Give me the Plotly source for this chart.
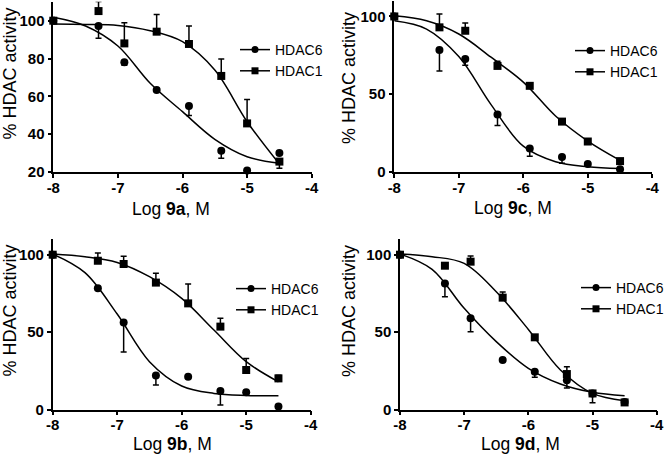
import plotly.graph_objects as go

# ---------------- data ----------------
conc_log = [-8, -7.3, -6.9, -6.4, -5.9, -5.4, -5, -4.5]
fit_log = [-8, -7.5, -7, -6.5, -6, -5.5, -5, -4.5]

x_ticks = [-8, -7, -6, -5, -4]
x_tick_text = ["-8", "-7", "-6", "-5", "-4"]
y_ticks_9a = [20, 40, 60, 80, 100]
y_ticks_other = [0, 50, 100]

series_names = ["HDAC6", "HDAC1"]

# 9a
h6_9a = [100, 97.2, 78, 63.4, 54.9, 31.3, 20.8, 30]
h6_9a_plus = [0, 0, 0, 0, 0, 0, 0, 0]
h6_9a_minus = [0, 6.5, 1.5, 0, 5, 4, 0, 0]
h1_9a = [100, 105.1, 88, 94.2, 87.7, 70.8, 45.7, 25.5]
h1_9a_plus = [0, 5, 10.9, 9.1, 9.5, 9, 12.7, 1.5]
h1_9a_minus = [0, 0, 0, 0, 0, 0, 0, 3.5]
fit6_9a = [101.8, 97.2, 86.6, 66.9, 51.9, 37.3, 28.1, 24.6]
fit1_9a = [98.2, 98, 97.5, 94.7, 88.9, 73.9, 46.6, 24.2]

# 9c
h6_9c = [100, 78.5, 72.7, 36.9, 15.1, 9.6, 5.1, 1.7]
h6_9c_plus = [0, 0, 0, 0, 0, 0, 0, 0]
h6_9c_minus = [0, 13.5, 4, 7, 5, 4, 0, 0]
h1_9c = [100, 93, 90.8, 68.2, 55.4, 32.4, 19.6, 7]
h1_9c_plus = [0, 8.5, 5, 3, 2, 0, 0, 0]
h1_9c_minus = [0, 0, 0, 0, 0, 0, 0, 0]
fit6_9c = [97.2, 91.9, 74.2, 43.3, 16.6, 6.6, 3.4, 2.3]
fit1_9c = [100.4, 97.2, 88.7, 73.8, 57.8, 36, 19.9, 7.5]

# 9b
h6_9b = [100, 78.3, 56.3, 22, 21.3, 12, 11.2, 2]
h6_9b_plus = [0, 0, 0, 0, 0, 0, 0, 0]
h6_9b_minus = [0, 0, 19, 6, 0, 9, 0, 0]
h1_9b = [100, 96.1, 94, 82, 68.6, 53.6, 25.6, 20.2]
h1_9b_plus = [0, 5, 5, 6, 12.5, 5.4, 7.5, 2]
h1_9b_minus = [0, 0, 0, 0, 0, 0, 0, 0]
fit6_9b = [100.4, 88.4, 61.7, 31, 15.3, 10.5, 9.2, 9]
fit1_9b = [100.4, 98.7, 95, 85.8, 71.8, 51.4, 31, 18]

# 9d
h6_9d = [100, 81.5, 59, 32, 24.5, 19, 10.5, 5]
h6_9d_plus = [0, 0, 0, 0, 0, 0, 0, 0]
h6_9d_minus = [0, 8.6, 8.7, 0, 3.5, 5, 6, 0]
h1_9d = [100, 92.9, 95.5, 72.3, 46.7, 23, 10.5, 4.7]
h1_9d_plus = [0, 0, 3.6, 3.7, 0, 4.7, 0, 0]
h1_9d_minus = [0, 0, 0, 0, 0, 0, 0, 0]
fit6_9d = [100.4, 90.5, 65.4, 43.9, 26.7, 16.6, 11.2, 9]
fit1_9d = [100.4, 98.7, 94.4, 76.1, 51.8, 25.6, 10.5, 5.8]

# ---------------- layout (pixel geometry) ----------------
W, H = 670, 456
FONT = "Arial, Liberation Sans, sans-serif"

panels = [
    dict(c="9a", d=(h6_9a, h6_9a_plus, h6_9a_minus, h1_9a, h1_9a_plus, h1_9a_minus, fit6_9a, fit1_9a),
         box=(53.3, 311.7, 1.8, 172.0), yr=[20, 110], yt=y_ticks_9a,
         leg=(235, 34), xt=(171, 209), ytc=(9.5, 74)),
    dict(c="9c", d=(h6_9c, h6_9c_plus, h6_9c_minus, h1_9c, h1_9c_plus, h1_9c_minus, fit6_9c, fit1_9c),
         box=(394.3, 652.3, 0.9, 172.0), yr=[0, 110], yt=y_ticks_other,
         leg=(570, 35), xt=(513, 208), ytc=(349, 78)),
    dict(c="9b", d=(h6_9b, h6_9b_plus, h6_9b_minus, h1_9b, h1_9b_plus, h1_9b_minus, fit6_9b, fit1_9b),
         box=(52.7, 310.7, 239.2, 409.7), yr=[0, 110], yt=y_ticks_other,
         leg=(231, 273), xt=(172, 444), ytc=(9.5, 311)),
    dict(c="9d", d=(h6_9d, h6_9d_plus, h6_9d_minus, h1_9d, h1_9d_plus, h1_9d_minus, fit6_9d, fit1_9d),
         box=(400.0, 656.7, 239.2, 409.7), yr=[0, 110], yt=y_ticks_other,
         leg=(576, 272), xt=(520, 444), ytc=(349, 311)),
]

fig = go.Figure()
layout = dict(
    template="none",
    width=W, height=H, margin=dict(l=0, r=0, t=0, b=0, pad=0, autoexpand=False),
    paper_bgcolor="white", plot_bgcolor="white",
    font=dict(family=FONT, color="black"),
    annotations=[],
)

axis_common = dict(showline=True, linecolor="black", linewidth=1.5,
                   ticks="outside", ticklen=4, tickwidth=1.5, tickcolor="black",
                   showgrid=False, zeroline=False, automargin=False,
                   tickfont=dict(family=FONT, size=15, color="black", weight="bold"))

for i, p in enumerate(panels, start=1):
    sfx = "" if i == 1 else str(i)
    xa, ya = "x" + sfx, "y" + sfx
    lg = "legend" + sfx
    l, r, t, b = p["box"]
    layout["xaxis" + sfx] = dict(axis_common, domain=[l / W, r / W], range=[-8, -4],
                                 tickvals=x_ticks, ticktext=x_tick_text, anchor=ya,
                                 ticklabelstandoff=-3)
    layout["yaxis" + sfx] = dict(axis_common, domain=[1 - b / H, 1 - t / H], range=p["yr"],
                                 tickvals=p["yt"], anchor=xa)
    lx, ly = p["leg"]
    layout[lg] = dict(x=lx / W, y=1 - ly / H, xanchor="left", yanchor="top",
                      bgcolor="rgba(0,0,0,0)", borderwidth=0,
                      font=dict(family=FONT, size=14, color="black"),
                      itemclick=False, tracegroupgap=0)
    h6, h6p, h6m, h1, h1p, h1m, f6, f1 = p["d"]

    for name, sym, yv, ep, em, fit in [
        (series_names[0], "circle", h6, h6p, h6m, f6),
        (series_names[1], "square", h1, h1p, h1m, f1),
    ]:
        fig.add_trace(go.Scatter(x=fit_log, y=fit, mode="lines", xaxis=xa, yaxis=ya,
                                 line=dict(color="black", width=1.5, shape="spline", smoothing=1.0),
                                 showlegend=False, hoverinfo="skip"))
        fig.add_trace(go.Scatter(x=conc_log, y=yv, mode="markers", xaxis=xa, yaxis=ya,
                                 marker=dict(symbol=sym, size=8, color="black"),
                                 error_y=dict(type="data", symmetric=False, array=ep, arrayminus=em,
                                              color="black", thickness=1.5, width=3),
                                 cliponaxis=False, showlegend=False, name=name))
        fig.add_trace(go.Scatter(x=[None], y=[None], mode="lines+markers", xaxis=xa, yaxis=ya,
                                 marker=dict(symbol=sym, size=7, color="black"),
                                 line=dict(color="black", width=1.5),
                                 name=name, legend=lg, showlegend=True))

    xtx, xty = p["xt"]
    layout["annotations"].append(dict(
        text="Log <b>%s</b>, M" % p["c"], xref="paper", yref="paper",
        x=xtx / W, y=1 - xty / H, xanchor="center", yanchor="middle", showarrow=False,
        font=dict(family=FONT, size=17.5, color="black")))
    ytx, yty = p["ytc"]
    layout["annotations"].append(dict(
        text="% HDAC activity", xref="paper", yref="paper", textangle=-90,
        x=ytx / W, y=1 - yty / H, xanchor="center", yanchor="middle", showarrow=False,
        font=dict(family=FONT, size=18, color="black")))

fig.update_layout(**layout)
fig.write_html("out.html", config={"displayModeBar": False},
               post_script="document.body.style.margin='0';document.body.style.overflow='hidden';")
